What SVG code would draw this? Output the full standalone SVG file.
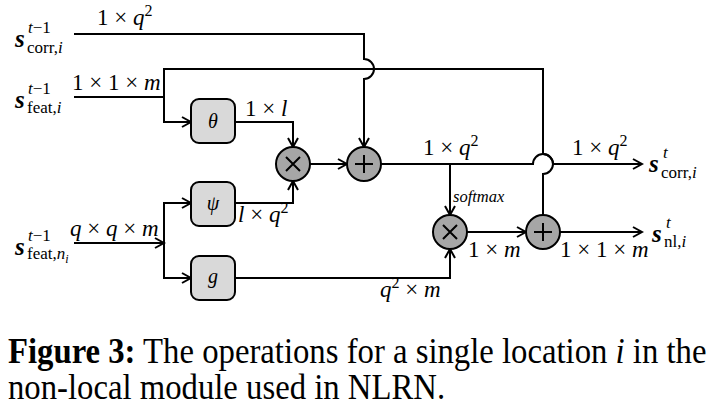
<svg xmlns="http://www.w3.org/2000/svg" width="715" height="410" viewBox="0 0 715 410">
<style>
.ln{fill:none;stroke:#000;stroke-width:2}
.arr{marker-end:url(#ah)}
.box{fill:#d9d9d9;stroke:#000;stroke-width:2}
.op{fill:#a6a6a6;stroke:#000;stroke-width:2}
.sym{stroke:#000;stroke-width:2}
text{font-family:'Liberation Serif','Times New Roman','DejaVu Serif',serif;fill:#000}
.m{font-size:23px}
.v{font-style:italic}
.s{font-size:25px;font-weight:bold;font-style:italic}
.sup{font-size:17px}
.sub{font-size:17px}
.bl{font-size:20px;font-style:italic}
.sm{font-size:16.5px;font-style:italic}
.cap{font-size:35px}
</style>
<defs>
<marker id="ah" viewBox="-11 -7 13 14" refX="0" refY="0" markerWidth="13" markerHeight="14" markerUnits="userSpaceOnUse" orient="auto">
<path d="M-9,-5 L0,0 L-9,5" fill="none" stroke="#000" stroke-width="2"/>
</marker>
</defs>

<g id="connectors">
<path class="ln arr" d="M74,34 H364 V59 A10,10 0 0 1 364,79 V147"/>
<path class="ln" d="M74,97 H164 V69 H543 V154 A10,10 0 0 1 543,174 V215"/>
<path class="ln arr" d="M164,97 V122 H191"/>
<path class="ln arr" d="M235,122 H293 V147"/>
<path class="ln arr" d="M74,243 H164"/>
<path class="ln arr" d="M164,243 V203 H191"/>
<path class="ln arr" d="M164,243 V278 H191"/>
<path class="ln arr" d="M235,203 H293 V181"/>
<path class="ln arr" d="M235,278 H450 V249"/>
<path class="ln arr" d="M310,164 H347"/>
<path class="ln arr" d="M381,164 H533 A10,10 0 0 1 553,164 H642"/>
<path class="ln arr" d="M450,164 V215"/>
<path class="ln arr" d="M467,232 H526"/>
<path class="ln arr" d="M560,232 H642"/>
</g>

<g id="theta"><rect class="box" x="191" y="99" width="44" height="44" rx="8"/><text class="bl" x="213" y="128" text-anchor="middle">θ</text></g>
<g id="psi"><rect class="box" x="191" y="182" width="44" height="44" rx="8"/><text class="bl" x="213" y="210" text-anchor="middle">ψ</text></g>
<g id="g"><rect class="box" x="191" y="256" width="44" height="44" rx="8"/><text class="bl" x="213" y="283" text-anchor="middle">g</text></g>

<g id="mul1"><circle class="op" cx="293" cy="164" r="17"/><path class="sym" d="M286,157 L300,171 M300,157 L286,171"/></g>
<g id="add1"><circle class="op" cx="364" cy="164" r="17"/><path class="sym" d="M355,164 H373 M364,155 V173"/></g>
<g id="mul2"><circle class="op" cx="450" cy="232" r="17"/><path class="sym" d="M443,225 L457,239 M457,225 L443,239"/></g>
<g id="add2"><circle class="op" cx="543" cy="232" r="17"/><path class="sym" d="M534,232 H552 M543,223 V241"/></g>

<g id="in-corr"><text class="s" x="15" y="47">s</text><text class="sup" x="28" y="33"><tspan font-style="italic">t</tspan>−1</text><text class="sub" x="27" y="53">corr,<tspan font-style="italic">i</tspan></text></g>
<g id="in-feat"><text class="s" x="15" y="108">s</text><text class="sup" x="28" y="94"><tspan font-style="italic">t</tspan>−1</text><text class="sub" x="27" y="113">feat,<tspan font-style="italic">i</tspan></text></g>
<g id="in-featn"><text class="s" x="15" y="255">s</text><text class="sup" x="28" y="241"><tspan font-style="italic">t</tspan>−1</text><text class="sub" x="27" y="259">feat,<tspan font-style="italic">n</tspan><tspan font-style="italic" font-size="12" dy="4">i</tspan></text></g>
<g id="out-corr"><text class="s" x="649" y="172">s</text><text class="sup" x="663" y="158" font-style="italic">t</text><text class="sub" x="661" y="178">corr,<tspan font-style="italic">i</tspan></text></g>
<g id="out-nl"><text class="s" x="652" y="242">s</text><text class="sup" x="666" y="228" font-style="italic">t</text><text class="sub" x="664" y="247">nl,<tspan font-style="italic">i</tspan></text></g>

<g id="labels">
<text class="m" x="97" y="25">1 × <tspan class="v">q</tspan><tspan font-size="16" dy="-9">2</tspan></text>
<text class="m" x="72" y="90">1 × 1 × <tspan class="v">m</tspan></text>
<text class="m" x="245" y="116">1 × <tspan class="v">l</tspan></text>
<text class="m" x="238" y="222"><tspan class="v">l</tspan> × <tspan class="v">q</tspan><tspan font-size="16" dy="-9">2</tspan></text>
<text class="m" x="70" y="236"><tspan class="v">q</tspan> × <tspan class="v">q</tspan> × <tspan class="v">m</tspan></text>
<text class="m" x="423" y="155">1 × <tspan class="v">q</tspan><tspan font-size="16" dy="-9">2</tspan></text>
<text class="m" x="572" y="155">1 × <tspan class="v">q</tspan><tspan font-size="16" dy="-9">2</tspan></text>
<text class="sm" x="453" y="202">softmax</text>
<text class="m" x="468" y="257">1 × <tspan class="v">m</tspan></text>
<text class="m" x="560" y="257">1 × 1 × <tspan class="v">m</tspan></text>
<text class="m" x="380" y="297"><tspan class="v">q</tspan><tspan font-size="16" dy="-9">2</tspan><tspan dy="9"> × </tspan><tspan class="v">m</tspan></text>
</g>

<g id="caption" transform="translate(8,0) scale(0.935,1)">
<text class="cap" x="0" y="363"><tspan font-weight="bold">Figure 3:</tspan> The operations for a single location <tspan font-style="italic">i</tspan> in the</text>
<text class="cap" x="0" y="399">non-local module used in NLRN.</text>
</g>
</svg>
